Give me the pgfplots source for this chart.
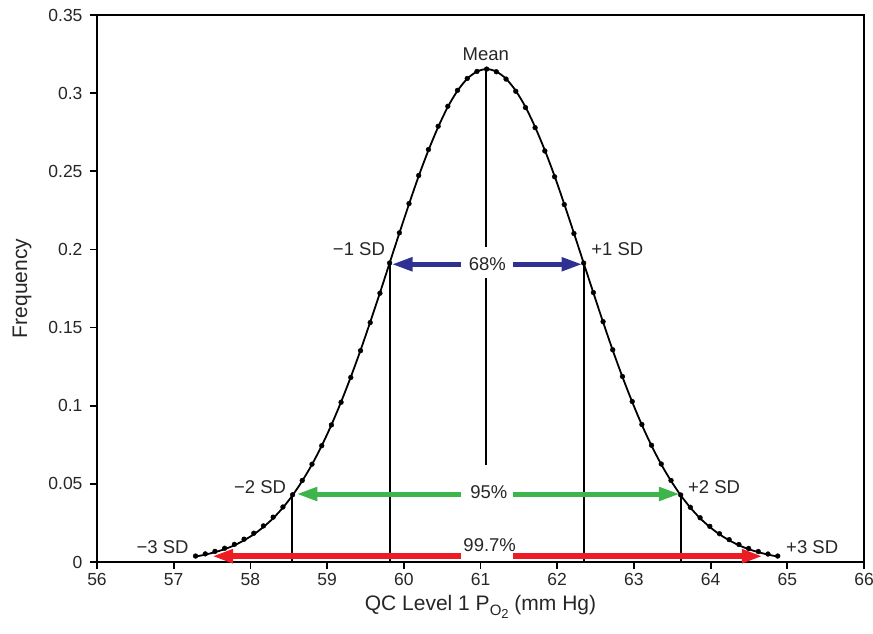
\documentclass[border=0pt]{standalone}
\usepackage{pgfplots}
\pgfplotsset{compat=1.18}
\usepackage{fontspec}
\setmainfont{Liberation Sans}
\usetikzlibrary{arrows.meta}
\definecolor{arrblue}{HTML}{2E3192}
\definecolor{arrgreen}{HTML}{3DB54A}
\definecolor{arrred}{HTML}{ED1C24}
\tikzset{
  lab/.style={font=\fontsize{18.5}{22}\selectfont, text=black!85},
  arr/.style={line width=5pt, >={Triangle[length=21pt,width=13pt]}},
}
\begin{document}
\begin{tikzpicture}
\begin{axis}[
  scale only axis,
  width=767pt, height=547pt,
  xmin=56, xmax=66, ymin=0, ymax=0.35,
  xtick={56,57,...,66},
  ytick={0,0.05,0.1,0.15,0.2,0.25,0.3,0.35},
  scaled y ticks=false,
  yticklabel style={/pgf/number format/fixed,/pgf/number format/precision=2, xshift=-4pt},
  xticklabel style={yshift=-1pt},
  /pgf/number format/assume math mode=true,
  tick align=outside, xtick pos=left, ytick pos=left,
  major tick length=7pt,
  every tick/.style={black, line width=1.8pt},
  axis line style={line width=1.8pt},
  tick label style={font=\fontsize{17.5}{21}\selectfont, text=black!85},
  xlabel={QC Level 1 P\raisebox{-5pt}{\fontsize{15}{17}\selectfont O\raisebox{-3pt}{\fontsize{13}{15}\selectfont 2}} (mm Hg)},
  ylabel={Frequency},
  xlabel style={font=\fontsize{21}{25}\selectfont, text=black!85, at={([yshift=-45pt]axis description cs:0.5,0)}, anchor=center},
  ylabel style={font=\fontsize{21}{25}\selectfont, text=black!85, at={([xshift=-75pt]axis description cs:0,0.5)}, anchor=center},
  clip=false,
]
% fitted curve
\addplot[black, line width=1.8pt, smooth] coordinates {
(57.285,0.0035)(57.412,0.0047)(57.538,0.0063)(57.664,0.0082)(57.791,0.0107)
(57.918,0.0139)(58.044,0.0177)(58.170,0.0224)(58.297,0.0280)(58.424,0.0348)
(58.550,0.0427)(58.676,0.0519)(58.803,0.0624)(58.930,0.0744)(59.056,0.0877)
(59.182,0.1024)(59.309,0.1184)(59.436,0.1355)(59.562,0.1535)(59.689,0.1722)
(59.815,0.1913)(59.942,0.2104)(60.068,0.2290)(60.194,0.2469)(60.321,0.2634)
(60.448,0.2783)(60.574,0.2912)(60.700,0.3015)(60.827,0.3092)(60.954,0.3138)
(61.080,0.3154)(61.206,0.3138)(61.333,0.3092)(61.460,0.3015)(61.586,0.2912)
(61.712,0.2783)(61.839,0.2634)(61.966,0.2469)(62.092,0.2290)(62.218,0.2104)
(62.345,0.1913)(62.472,0.1722)(62.598,0.1535)(62.724,0.1355)(62.851,0.1184)
(62.978,0.1024)(63.104,0.0877)(63.230,0.0744)(63.357,0.0624)(63.484,0.0519)
(63.610,0.0427)(63.736,0.0348)(63.863,0.0280)(63.990,0.0224)(64.116,0.0177)
(64.242,0.0139)(64.369,0.0107)(64.496,0.0082)(64.622,0.0063)(64.748,0.0047)
(64.875,0.0035)};
% data dots
\addplot[only marks, mark=*, mark size=2.4pt, black] coordinates {
(57.285,0.0038)(57.412,0.0052)(57.538,0.0068)(57.664,0.0088)(57.791,0.0113)
(57.918,0.0146)(58.044,0.0184)(58.170,0.0231)(58.297,0.0287)(58.424,0.0352)
(58.550,0.0430)(58.676,0.0522)(58.803,0.0626)(58.930,0.0744)(59.056,0.0877)
(59.182,0.1022)(59.309,0.1181)(59.436,0.1352)(59.562,0.1532)(59.689,0.1720)
(59.815,0.1913)(59.942,0.2106)(60.068,0.2293)(60.194,0.2473)(60.321,0.2639)
(60.448,0.2788)(60.574,0.2916)(60.700,0.3018)(60.827,0.3094)(60.954,0.3139)
(61.080,0.3154)(61.206,0.3137)(61.333,0.3090)(61.460,0.3012)(61.586,0.2908)
(61.712,0.2779)(61.839,0.2630)(61.966,0.2465)(62.092,0.2287)(62.218,0.2102)
(62.345,0.1913)(62.472,0.1724)(62.598,0.1538)(62.724,0.1358)(62.851,0.1187)
(62.978,0.1027)(63.104,0.0880)(63.230,0.0747)(63.357,0.0627)(63.484,0.0522)
(63.610,0.0429)(63.736,0.0350)(63.863,0.0283)(63.990,0.0228)(64.116,0.0181)
(64.242,0.0143)(64.369,0.0112)(64.496,0.0087)(64.622,0.0067)(64.748,0.0051)
(64.875,0.0038)};
% vertical lines
\addplot[black, line width=2pt] coordinates {(61.07,0.3154)(61.07,0.2015)};
\addplot[black, line width=2pt] coordinates {(61.07,0.1817)(61.07,0.062)};
\addplot[black, line width=2pt] coordinates {(59.815,0.1913)(59.815,0)};
\addplot[black, line width=2pt] coordinates {(62.345,0.1913)(62.345,0)};
\addplot[black, line width=2pt] coordinates {(58.545,0.0427)(58.545,0)};
\addplot[black, line width=2pt] coordinates {(63.610,0.0427)(63.610,0)};
% arrows (two halves each, gap for the label)
\addplot[arrblue, arr, <-] coordinates {(59.84,0.1905)(60.74,0.1905)};
\addplot[arrblue, arr, ->] coordinates {(61.43,0.1905)(62.33,0.1905)};
\addplot[arrgreen, arr, <-] coordinates {(58.60,0.0435)(60.74,0.0435)};
\addplot[arrgreen, arr, ->] coordinates {(61.43,0.0435)(63.60,0.0435)};
\addplot[arrred, arr, line width=5.5pt, <-] coordinates {(57.50,0.0037)(60.74,0.0037)};
\addplot[arrred, arr, line width=5.5pt, ->] coordinates {(61.43,0.0037)(64.68,0.0037)};
% labels
\node[lab] at (axis cs:61.09,0.1905) {68\%};
\node[lab] at (axis cs:61.11,0.0448) {95\%};
\node[lab] at (axis cs:61.12,0.0107) {99.7\%};
\node[lab, anchor=south] at (axis cs:61.07,0.3185) {Mean};
\node[lab, anchor=east] at (axis cs:59.80,0.2) {\char"2212 1 SD};
\node[lab, anchor=west] at (axis cs:62.40,0.2) {+1 SD};
\node[lab, anchor=east] at (axis cs:58.51,0.048) {\char"2212 2 SD};
\node[lab, anchor=west] at (axis cs:63.66,0.048) {+2 SD};
\node[lab, anchor=east] at (axis cs:57.24,0.0096) {\char"2212 3 SD};
\node[lab, anchor=west] at (axis cs:64.94,0.0096) {+3 SD};
\coordinate (bl) at ([xshift=-97pt,yshift=-72pt]rel axis cs:0,0);
\coordinate (tr) at ([xshift=9pt,yshift=15pt]rel axis cs:1,1);
\end{axis}
\pgfresetboundingbox
\path[use as bounding box] (bl) rectangle (tr);
\end{tikzpicture}
\end{document}
